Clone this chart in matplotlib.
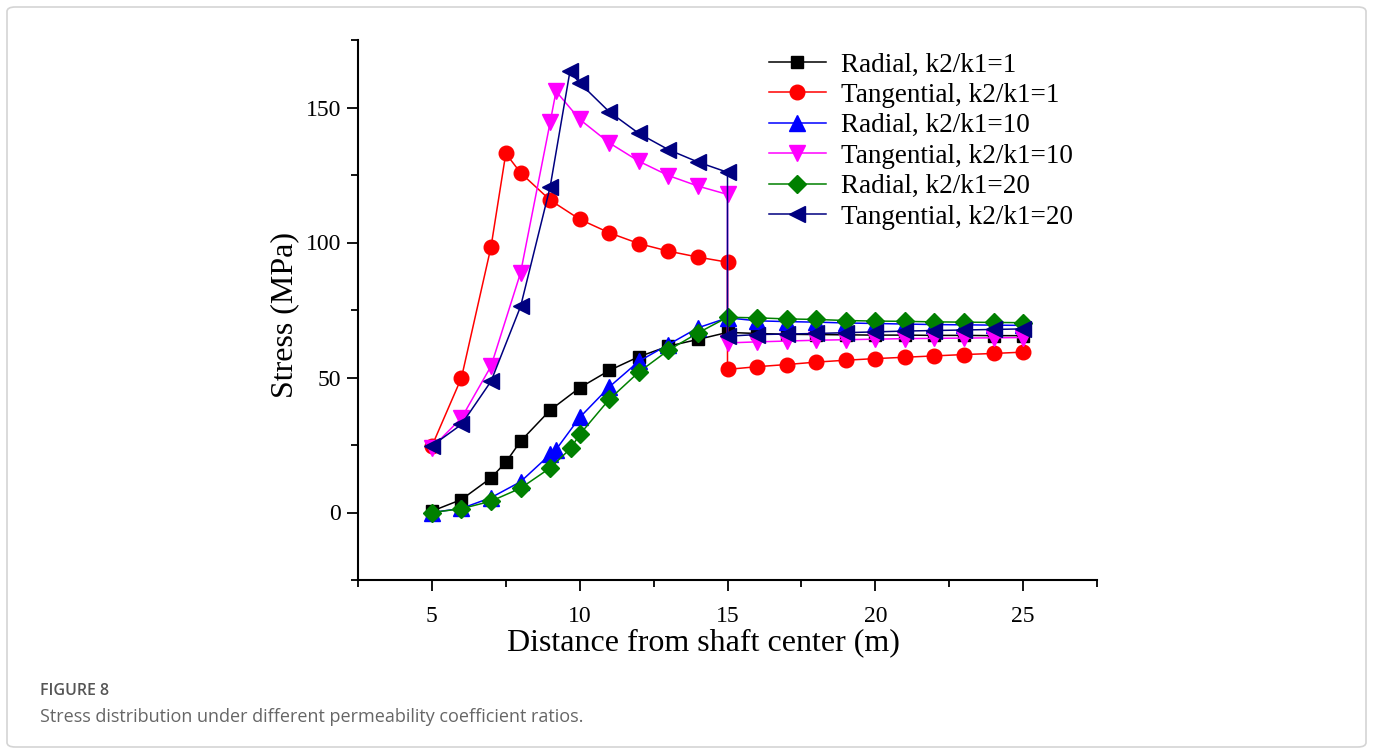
import matplotlib
matplotlib.use("Agg")
import matplotlib.pyplot as plt
from matplotlib.patches import FancyBboxPatch
from matplotlib.ticker import MultipleLocator

# -----------------------------
# Data
# -----------------------------

x_rad_1 = [5, 6, 7, 7.5, 8, 9, 10, 11, 12, 13, 14, 15,
           16, 17, 18, 19, 20, 21, 22, 23, 24, 25]
rad_1 = [0.5, 4.8, 12.8, 18.6, 26.4, 37.9, 46.2, 52.6, 57.7, 61.6, 64.1, 66.7,
         66.3, 66.0, 65.9, 65.8, 65.7, 65.7, 65.6, 65.6, 65.5, 65.5]

x_tan_1 = [5, 6, 7, 7.5, 8, 9, 10, 11, 12, 13, 14, 15, 15,
           16, 17, 18, 19, 20, 21, 22, 23, 24, 25]
tan_1 = [24.6, 49.9, 98.4, 133.0, 125.8, 115.7, 108.6, 103.6, 99.6, 96.8, 94.6, 92.7, 53.0,
         54.0, 54.8, 55.7, 56.4, 57.0, 57.5, 58.0, 58.5, 58.9, 59.4]

x_rad_10 = [5, 6, 7, 8, 9, 9.2, 10, 11, 12, 13, 14, 15,
            16, 17, 18, 19, 20, 21, 22, 23, 24, 25]
rad_10 = [0.0, 1.5, 5.5, 11.4, 21.5, 23.3, 35.2, 46.5, 56.0, 62.2, 68.4, 72.1,
          71.0, 70.7, 70.5, 70.2, 70.0, 69.8, 69.6, 69.5, 69.4, 69.3]

x_tan_10 = [5, 6, 7, 8, 9, 9.2, 10, 11, 12, 13, 14, 15, 15,
            16, 17, 18, 19, 20, 21, 22, 23, 24, 25]
tan_10 = [24.0, 35.0, 54.2, 88.8, 144.5, 156.0, 145.6, 136.9, 130.1, 124.8, 120.9, 117.8, 62.8,
          63.2, 63.5, 63.8, 64.0, 64.2, 64.4, 64.5, 64.6, 64.7, 64.8]

x_rad_20 = [5, 6, 7, 8, 9, 9.7, 10, 11, 12, 13, 14, 15,
            16, 17, 18, 19, 20, 21, 22, 23, 24, 25]
rad_20 = [0.0, 1.4, 4.2, 9.0, 16.5, 23.8, 28.9, 41.9, 52.0, 60.1, 66.5, 72.3,
          72.1, 71.7, 71.5, 71.1, 70.9, 70.8, 70.6, 70.5, 70.4, 70.3]

x_tan_20 = [5, 6, 7, 8, 9, 9.67, 10, 11, 12, 13, 14, 15, 15,
            16, 17, 18, 19, 20, 21, 22, 23, 24, 25]
tan_20 = [24.7, 32.6, 48.6, 76.3, 120.6, 163.4, 159.1, 148.4, 140.4, 134.4, 129.8, 126.0, 65.3,
          65.9, 66.1, 66.3, 66.6, 66.9, 67.2, 67.4, 67.6, 67.8, 68.0]

series = [
    (x_rad_1, rad_1, "Radial, k2/k1=1", "black", "s", 9),
    (x_tan_1, tan_1, "Tangential, k2/k1=1", "#ff0000", "o", 10.5),
    (x_rad_10, rad_10, "Radial, k2/k1=10", "#0000ff", "^", 11),
    (x_tan_10, tan_10, "Tangential, k2/k1=10", "#ff00ff", "v", 11),
    (x_rad_20, rad_20, "Radial, k2/k1=20", "#008000", "D", 9),
    (x_tan_20, tan_20, "Tangential, k2/k1=20", "#000080", "<", 11),
]

LABEL_FONT = "Liberation Serif"

# -----------------------------
# Figure
# -----------------------------

fig = plt.figure(figsize=(13.73, 7.52), dpi=100)

# light page frame around the figure
frame = FancyBboxPatch((7 / 1373, 5 / 752), 1359 / 1373, 740 / 752,
                       boxstyle="round,pad=0,rounding_size=0.006",
                       transform=fig.transFigure, facecolor="none",
                       edgecolor="#d4d4d4", linewidth=1.2)
fig.patches.append(frame)

ax = fig.add_axes([358 / 1373, 1 - 580 / 752, 739 / 1373, 540 / 752])

for xs, ys, label, color, marker, ms in series:
    ax.plot(xs, ys, color=color, marker=marker, markersize=ms,
            linewidth=1.1, label=label)

ax.set_xlim(2.5, 27.5)
ax.set_ylim(-25, 175)
ax.xaxis.set_major_locator(MultipleLocator(5))
ax.xaxis.set_minor_locator(MultipleLocator(2.5))
ax.yaxis.set_major_locator(MultipleLocator(50))
ax.yaxis.set_minor_locator(MultipleLocator(25))

ax.spines["top"].set_visible(False)
ax.spines["right"].set_visible(False)
ax.spines["left"].set_linewidth(1.5)
ax.spines["bottom"].set_linewidth(1.5)
ax.tick_params(which="major", direction="out", length=8, width=1.3,
               labelsize=17)
ax.tick_params(which="minor", direction="out", length=5, width=1.3)
ax.tick_params(axis="x", pad=11)
ax.tick_params(axis="y", pad=4)
for lbl in ax.get_xticklabels() + ax.get_yticklabels():
    lbl.set_fontfamily(LABEL_FONT)

ax.set_xlabel("Distance from shaft center (m)", fontsize=23,
              fontfamily=LABEL_FONT)
ax.set_ylabel("Stress (MPa)", fontsize=23, fontfamily=LABEL_FONT)
ax.xaxis.set_label_coords(0.468, -0.09)
ax.yaxis.set_label_coords(-0.079, 0.49)

ax.legend(loc="upper left", bbox_to_anchor=(0.556, 0.977), frameon=False,
          prop={"family": LABEL_FONT, "size": 19.5}, borderaxespad=0,
          borderpad=0, handlelength=2.1, handletextpad=0.55,
          labelspacing=0.2)

fig.text(40 / 1373, 1 - 691 / 752, "FIGURE 8", fontsize=11.5,
         fontfamily="Open Sans", fontweight="semibold", color="#555555",
         va="center")
fig.text(40 / 1373, 1 - 717 / 752,
         "Stress distribution under different permeability coefficient ratios.",
         fontsize=13, fontfamily="Open Sans", color="#666666", va="center")

fig.savefig("out.png", dpi=100)
